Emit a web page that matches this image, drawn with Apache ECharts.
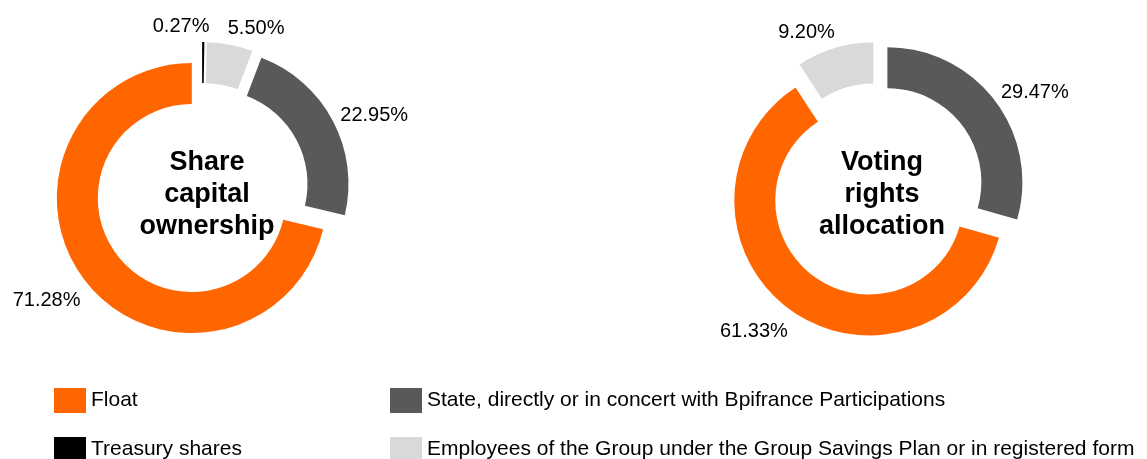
<!DOCTYPE html>
<html>
<head>
<meta charset="utf-8">
<script src="https://cdn.jsdelivr.net/npm/echarts@6/dist/echarts.min.js"></script>
<style>
  html, body { margin: 0; padding: 0; background: #fff; }
  #chart { width: 1147px; height: 459px; }
</style>
</head>
<body>
<div id="chart"></div>
<script>
// categories
var FLOAT = "Float";
var STATE = "State, directly or in concert with Bpifrance Participations";
var TREASURY = "Treasury shares";
var EMPLOYEES = "Employees of the Group under the Group Savings Plan or in registered form";

// share capital ownership (clockwise from 12 o'clock)
var capitalNames = [TREASURY, EMPLOYEES, STATE, FLOAT];
var capitalValues = [0.27, 5.50, 22.95, 71.28];

// voting rights allocation (clockwise from 12 o'clock)
var votingNames = [STATE, FLOAT, EMPLOYEES];
var votingValues = [29.47, 61.33, 9.20];

var colors = {};
colors[FLOAT] = "#ff6600";
colors[STATE] = "#595959";
colors[TREASURY] = "#000000";
colors[EMPLOYEES] = "#d9d9d9";

// legend grid: two columns, two rows
var legendItems = [FLOAT, STATE, TREASURY, EMPLOYEES];

var FONT = "Liberation Sans, Arial, sans-serif";

function toData(names, values) {
  return names.map(function (n, i) {
    return { name: n, value: values[i], selected: true, itemStyle: { color: colors[n] } };
  });
}

function pieSeries(names, values, center) {
  return {
    type: "pie",
    center: center,
    radius: [94, 135],
    startAngle: 90,
    clockwise: true,
    selectedMode: "multiple",
    selectedOffset: 13,
    avoidLabelOverlap: false,
    emphasis: { disabled: true },
    itemStyle: { borderWidth: 0 },
    label: {
      show: true,
      position: "outside",
      distanceToLabelLine: 0,
      color: "#000",
      fontFamily: FONT,
      fontSize: 20,
      formatter: function (p) { return p.value.toFixed(2) + "%"; }
    },
    labelLine: { show: false, length: 22, length2: 22 },
    labelLayout: function (p) {
      // tiny slice label sits to the left of its neighbour
      if (values[p.dataIndex] < 1) return { align: "right", dx: -16, dy: 6 };
      return { align: "center", dy: 5 };
    },
    data: toData(names, values)
  };
}

function legendFor(name, i) {
  return {
    data: [name],
    left: i % 2 === 0 ? 54 : 390,
    top: i < 2 ? 388 : 437,
    padding: 0,
    itemWidth: 32, itemHeight: 25, itemGap: 0, icon: "rect",
    selectedMode: false,
    textStyle: { fontFamily: FONT, fontSize: 21, color: "#000" }
  };
}

var chart = echarts.init(document.getElementById("chart"));
chart.setOption({
  animation: false,
  title: [
    {
      text: "Share\ncapital\nownership",
      left: 202, top: 190, textAlign: "center", textVerticalAlign: "middle",
      textStyle: { fontFamily: FONT, fontSize: 27, fontWeight: "bold", color: "#000", lineHeight: 32 }
    },
    {
      text: "Voting\nrights\nallocation",
      left: 877, top: 190, textAlign: "center", textVerticalAlign: "middle",
      textStyle: { fontFamily: FONT, fontSize: 27, fontWeight: "bold", color: "#000", lineHeight: 32 }
    }
  ],
  legend: legendItems.map(legendFor),
  series: [
    pieSeries(capitalNames, capitalValues, [202, 190]),
    pieSeries(votingNames, votingValues, [877, 190])
  ]
});
</script>
</body>
</html>
